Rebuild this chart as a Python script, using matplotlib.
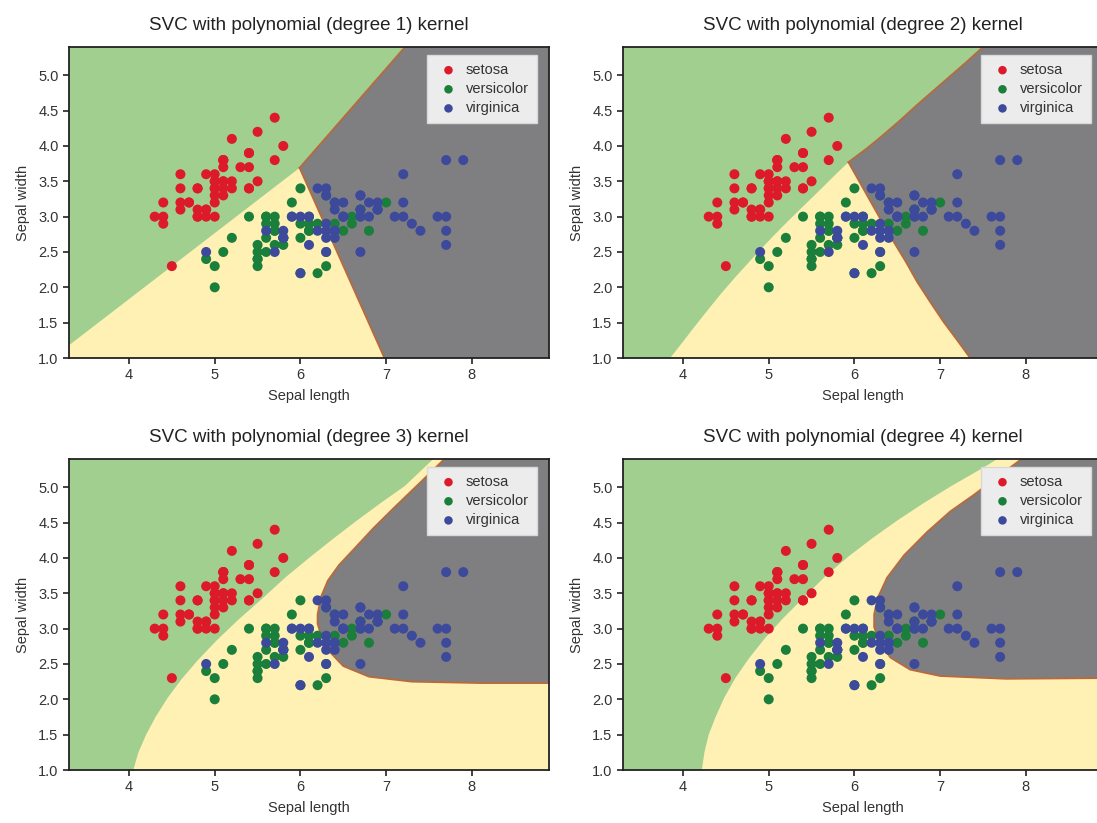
import matplotlib
matplotlib.use('Agg')
import matplotlib.pyplot as plt
import numpy as np

plt.rcParams['font.family'] = ['Liberation Sans Narrow', 'Liberation Sans', 'DejaVu Sans']

# iris sepal measurements (length, width)
setosa_len = [5.1, 4.9, 4.7, 4.6, 5.0, 5.4, 4.6, 5.0, 4.4, 4.9, 5.4, 4.8, 4.8, 4.3, 5.8,
              5.7, 5.4, 5.1, 5.7, 5.1, 5.4, 5.1, 4.6, 5.1, 4.8, 5.0, 5.0, 5.2, 5.2, 4.7,
              4.8, 5.4, 5.2, 5.5, 4.9, 5.0, 5.5, 4.9, 4.4, 5.1, 5.0, 4.5, 4.4, 5.0, 5.1,
              4.8, 5.1, 4.6, 5.3, 5.0]
setosa_wid = [3.5, 3.0, 3.2, 3.1, 3.6, 3.9, 3.4, 3.4, 2.9, 3.1, 3.7, 3.4, 3.0, 3.0, 4.0,
              4.4, 3.9, 3.5, 3.8, 3.8, 3.4, 3.7, 3.6, 3.3, 3.4, 3.0, 3.4, 3.5, 3.4, 3.2,
              3.1, 3.4, 4.1, 4.2, 3.1, 3.2, 3.5, 3.6, 3.0, 3.4, 3.5, 2.3, 3.2, 3.5, 3.8,
              3.0, 3.8, 3.2, 3.7, 3.3]
versicolor_len = [7.0, 6.4, 6.9, 5.5, 6.5, 5.7, 6.3, 4.9, 6.6, 5.2, 5.0, 5.9, 6.0, 6.1, 5.6,
                  6.7, 5.6, 5.8, 6.2, 5.6, 5.9, 6.1, 6.3, 6.1, 6.4, 6.6, 6.8, 6.7, 6.0, 5.7,
                  5.5, 5.5, 5.8, 6.0, 5.4, 6.0, 6.7, 6.3, 5.6, 5.5, 5.5, 6.1, 5.8, 5.0, 5.6,
                  5.7, 5.7, 6.2, 5.1, 5.7]
versicolor_wid = [3.2, 3.2, 3.1, 2.3, 2.8, 2.8, 3.3, 2.4, 2.9, 2.7, 2.0, 3.0, 2.2, 2.9, 2.9,
                  3.1, 3.0, 2.7, 2.2, 2.5, 3.2, 2.8, 2.5, 2.8, 2.9, 3.0, 2.8, 3.0, 2.9, 2.6,
                  2.4, 2.4, 2.7, 2.7, 3.0, 3.4, 3.1, 2.3, 3.0, 2.5, 2.6, 3.0, 2.6, 2.3, 2.7,
                  3.0, 2.9, 2.9, 2.5, 2.8]
virginica_len = [6.3, 5.8, 7.1, 6.3, 6.5, 7.6, 4.9, 7.3, 6.7, 7.2, 6.5, 6.4, 6.8, 5.7, 5.8,
                 6.4, 6.5, 7.7, 7.7, 6.0, 6.9, 5.6, 7.7, 6.3, 6.7, 7.2, 6.2, 6.1, 6.4, 7.2,
                 7.4, 7.9, 6.4, 6.3, 6.1, 7.7, 6.3, 6.4, 6.0, 6.9, 6.7, 6.9, 5.8, 6.8, 6.7,
                 6.7, 6.3, 6.5, 6.2, 5.9]
virginica_wid = [3.3, 2.7, 3.0, 2.9, 3.0, 3.0, 2.5, 2.9, 2.5, 3.6, 3.2, 2.7, 3.0, 2.5, 2.8,
                 3.2, 3.0, 3.8, 2.6, 2.2, 3.2, 2.8, 2.8, 2.7, 3.3, 3.2, 2.8, 3.0, 2.8, 3.0,
                 2.8, 3.8, 2.8, 2.8, 2.6, 3.0, 3.4, 3.1, 3.0, 3.1, 3.1, 3.1, 2.7, 3.2, 3.3,
                 3.0, 2.5, 3.0, 3.4, 3.0]

species = ['setosa', 'versicolor', 'virginica']
degrees = [1, 2, 3, 4]

# decision boundaries
# sv = setosa/versicolor edge, sg = setosa/virginica, vg = versicolor/virginica
d1_sv_x = [3.30, 5.99]
d1_sv_y = [1.18, 3.69]
d1_sg_x = [5.99, 7.22]
d1_sg_y = [3.69, 5.40]
d1_vg_x = [5.99, 6.98]
d1_vg_y = [3.69, 1.00]

d2_sv_x = [3.85, 3.98, 4.12, 4.27, 4.43, 4.60, 4.78, 4.97, 5.17, 5.38, 5.60, 5.80, 5.93]
d2_sv_y = [1.00, 1.20, 1.42, 1.65, 1.89, 2.13, 2.37, 2.62, 2.87, 3.12, 3.38, 3.62, 3.77]
d2_sg_x = [5.93, 6.15, 6.34, 6.54, 6.73, 6.92, 7.10, 7.30, 7.50]
d2_sg_y = [3.77, 3.97, 4.16, 4.37, 4.58, 4.78, 4.97, 5.18, 5.40]
d2_vg_x = [5.93, 6.06, 6.19, 6.32, 6.46, 6.60, 6.73, 6.88, 7.04, 7.20, 7.35]
d2_vg_y = [3.77, 3.49, 3.21, 2.93, 2.64, 2.36, 2.08, 1.80, 1.51, 1.25, 1.00]

# degree 3/4: setosa edge plus the closed edge of the virginica island
d3_sv_x = [4.05, 4.11, 4.20, 4.31, 4.45, 4.61, 4.80, 5.02, 5.27, 5.55, 5.83, 6.10,
           6.38, 6.66, 6.94, 7.22, 7.55]
d3_sv_y = [1.00, 1.25, 1.50, 1.75, 2.02, 2.28, 2.55, 2.83, 3.12, 3.42, 3.73, 4.00,
           4.27, 4.53, 4.78, 5.02, 5.40]
d3_g_x = [7.68, 7.40, 7.10, 6.85, 6.62, 6.45, 6.32, 6.24, 6.20, 6.20, 6.23, 6.32,
          6.50, 6.80, 7.30, 8.10, 8.90]
d3_g_y = [5.40, 5.07, 4.72, 4.42, 4.12, 3.90, 3.68, 3.45, 3.20, 3.07, 2.95, 2.70,
          2.47, 2.32, 2.25, 2.23, 2.23]

d4_sv_x = [4.22, 4.25, 4.30, 4.38, 4.48, 4.61, 4.77, 4.96, 5.17, 5.41, 5.66, 5.93,
           6.21, 6.50, 6.80, 7.12, 7.45, 7.67]
d4_sv_y = [1.00, 1.25, 1.50, 1.75, 2.02, 2.30, 2.58, 2.87, 3.15, 3.44, 3.74, 4.02,
           4.28, 4.53, 4.77, 5.01, 5.24, 5.40]
d4_g_x = [7.95, 7.65, 7.39, 7.12, 6.85, 6.58, 6.38, 6.27, 6.23, 6.23, 6.29, 6.42,
          6.65, 7.00, 7.77, 8.90]
d4_g_y = [5.40, 5.13, 4.89, 4.66, 4.37, 4.04, 3.72, 3.43, 3.20, 3.02, 2.82, 2.59,
          2.42, 2.33, 2.29, 2.30]

x_ticks = [4, 5, 6, 7, 8]
y_ticks = [1.0, 1.5, 2.0, 2.5, 3.0, 3.5, 4.0, 4.5, 5.0]

XMIN, XMAX = 3.3, 8.9
YMIN, YMAX = 1.0, 5.4

C_GREEN = '#a1cf8f'
C_YELLOW = '#fff1b3'
C_GRAY = '#7f7e80'
C_EDGE = '#b86a3e'
PT_COLORS = ['#dc1a2a', '#1b7f3c', '#3d4a9c']

fig = plt.figure(figsize=(10.97, 8.23), dpi=100)
W, H = 1097.0, 823.0
# pixel boxes (left, top, right, bottom); right column runs past the edge
boxes = [(69, 47, 549, 358), (623, 47, 1103, 358),
         (69, 459, 549, 770), (623, 459, 1103, 770)]

points = [(setosa_len, setosa_wid), (versicolor_len, versicolor_wid),
          (virginica_len, virginica_wid)]

for k, deg in enumerate(degrees):
    l, t, r, b = boxes[k]
    ax = fig.add_axes([l / W, 1 - b / H, (r - l) / W, (b - t) / H])
    ax.set_facecolor(C_YELLOW)

    if deg in (1, 2):
        sv_x, sv_y = (d1_sv_x, d1_sv_y) if deg == 1 else (d2_sv_x, d2_sv_y)
        sg_x, sg_y = (d1_sg_x, d1_sg_y) if deg == 1 else (d2_sg_x, d2_sg_y)
        vg_x, vg_y = (d1_vg_x, d1_vg_y) if deg == 1 else (d2_vg_x, d2_vg_y)
        gx = list(sv_x) + list(sg_x[1:]) + [XMIN, XMIN]
        gy = list(sv_y) + list(sg_y[1:]) + [YMAX, sv_y[0]]
        ax.fill(gx, gy, color=C_GREEN, lw=0, zorder=1)
        px = list(sg_x) + [XMAX, XMAX] + list(vg_x[::-1])
        py = list(sg_y) + [YMAX, YMIN] + list(vg_y[::-1])
        ax.fill(px, py, color=C_GRAY, lw=0, zorder=1)
        ax.plot(sg_x, sg_y, color=C_EDGE, lw=1.3, zorder=2)
        ax.plot(vg_x, vg_y, color=C_EDGE, lw=1.3, zorder=2)
    else:
        sv_x, sv_y = (d3_sv_x, d3_sv_y) if deg == 3 else (d4_sv_x, d4_sv_y)
        g_x, g_y = (d3_g_x, d3_g_y) if deg == 3 else (d4_g_x, d4_g_y)
        gx = list(sv_x) + [XMIN, XMIN]
        gy = list(sv_y) + [YMAX, YMIN]
        ax.fill(gx, gy, color=C_GREEN, lw=0, zorder=1)
        ax.fill(list(g_x) + [XMAX], list(g_y) + [YMAX], color=C_GRAY, lw=0, zorder=1)
        ax.plot(g_x, g_y, color=C_EDGE, lw=1.3, zorder=2)

    for (xs, ys), name, col in zip(points, species, PT_COLORS):
        ax.scatter(xs, ys, s=52, color=col, edgecolors='none', label=name, zorder=3)

    ax.set_xlim(XMIN, XMAX)
    ax.set_ylim(YMIN, YMAX)
    ax.set_xticks(x_ticks)
    ax.set_yticks(y_ticks)
    ax.set_yticklabels(['%.1f' % v for v in y_ticks])
    ax.tick_params(direction='out', length=4, width=1.2, color='#222222',
                   labelcolor='#333333', labelsize=10.5)
    for sp in ax.spines.values():
        sp.set_color('#222222')
        sp.set_linewidth(1.3)
        sp.set_zorder(5)
    ax.set_xlabel('Sepal length', fontsize=10.5, color='#333333', labelpad=5)
    ax.set_ylabel('Sepal width', fontsize=10.5, color='#333333', labelpad=6)
    ax.set_title('SVC with polynomial (degree %d) kernel' % deg,
                 fontsize=13.5, color='#222222', pad=12)

    leg = ax.legend(loc='upper right', bbox_to_anchor=(1 - 12 / 480.0, 1 - 8 / 311.0),
                    borderaxespad=0, fontsize=10.5, frameon=True, fancybox=False,
                    markerscale=0.85, handletextpad=0.3, labelspacing=0.35,
                    borderpad=0.55, handlelength=1.8)
    leg.get_frame().set_facecolor('#ececec')
    leg.get_frame().set_edgecolor('#d8d8d8')
    leg.get_frame().set_alpha(1)
    for txt in leg.get_texts():
        txt.set_color('#333333')

fig.savefig('out.png', dpi=100)
